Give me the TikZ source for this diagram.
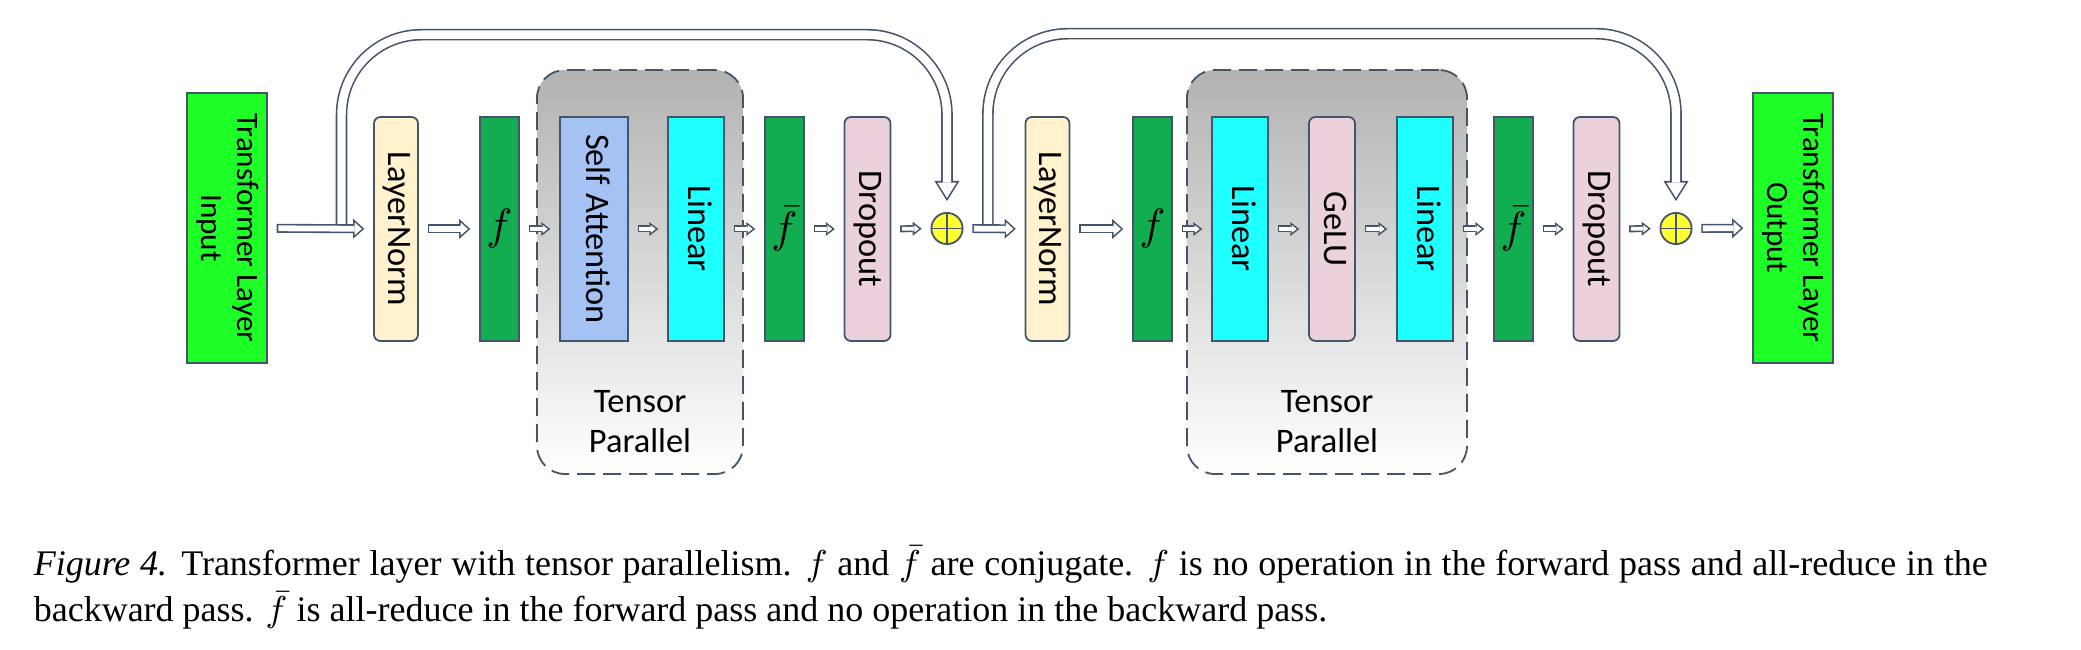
\documentclass[tikz,border=0pt]{standalone}
\usepackage{fontspec}
\setmainfont{Liberation Serif}
\newfontfamily\boxfont{Carlito}
\usepackage{graphicx}
\usetikzlibrary{arrows.meta,calc}

\definecolor{edge}{HTML}{44546A}
\definecolor{iogreen}{RGB}{30,255,40}
\definecolor{fgreen}{RGB}{18,173,80}
\definecolor{normcream}{HTML}{FFF2CC}
\definecolor{attnblue}{RGB}{164,194,244}
\definecolor{lincyan}{RGB}{30,255,255}
\definecolor{droppink}{HTML}{EAD1DC}
\definecolor{addyellow}{RGB}{255,255,50}

\newcommand{\vlabel}[1]{\rotatebox{-90}{\begin{tabular}{@{}c@{}}#1\end{tabular}}}

\begin{document}
\begin{tikzpicture}[x=0.25pt, y=-0.25pt,
    every node/.style={font=\boxfont\fontsize{8.6}{10}\selectfont},
    block/.style={draw=edge, line width=0.45pt, minimum height=56pt, inner sep=0pt},
    iobox/.style={block, fill=iogreen, minimum width=20pt, minimum height=67.5pt,
      font=\boxfont\fontsize{7.8}{9}\selectfont},
    normbox/.style={block, fill=normcream, rounded corners=1.6pt, minimum width=11pt},
    fbox/.style={block, fill=fgreen, minimum width=9.75pt, font=\fontsize{10.5}{12}\selectfont},
    attnbox/.style={block, fill=attnblue, minimum width=17pt},
    linbox/.style={block, fill=lincyan, minimum width=14pt},
    dropbox/.style={block, fill=droppink, rounded corners=1.6pt, minimum width=11.5pt},
    addnode/.style={circle, draw=edge, line width=0.45pt, fill=addyellow, minimum size=7.8pt,
      inner sep=0pt, path picture={
        \draw[edge, line width=0.45pt] (path picture bounding box.north) -- (path picture bounding box.south)
          (path picture bounding box.west) -- (path picture bounding box.east);}},
    tpbox/.style={draw=edge, line width=0.45pt, dash pattern=on 4.5pt off 2pt, rounded corners=7pt,
      top color=gray!60, bottom color=white, inner sep=0pt},
    bigarrow/.style={draw=edge, line width=2.25pt, shorten <=2.2pt, shorten >=2.2pt,
      -{Triangle[length=2.8pt, width=5pt, line width=0pt]},
      postaction={draw=white, line width=1.45pt, shorten <=2.6pt, shorten >=2.8pt,
        -{Triangle[length=1.8pt, width=3.2pt, line width=0pt]}}},
    smallarrow/.style={draw=edge, line width=1.75pt, shorten <=2.2pt, shorten >=2.2pt,
      -{Triangle[length=2.25pt, width=3.5pt, line width=0pt]},
      postaction={draw=white, line width=0.95pt, shorten <=2.6pt, shorten >=2.85pt,
        -{Triangle[length=1.2pt, width=1.9pt, line width=0pt]}}},
    skiparrow/.style={draw=edge, line width=2.9pt, rounded corners=20pt, shorten >=2.75pt,
      -{Triangle[length=5pt, width=6.25pt, line width=0pt]},
      postaction={draw=white, line width=2.1pt, shorten >=3.5pt,
        -{Triangle[length=3.85pt, width=4.8pt, line width=0pt]}}}]
    \useasboundingbox (0,0) rectangle (2081,650);

    % tensor parallel regions
    \node[tpbox, minimum width=51.5pt, minimum height=101pt] (tp1) at (640,272) {};
    \node[tpbox, minimum width=70pt, minimum height=101pt] (tp2) at (1327,272) {};
    \node[align=center] (tp1lbl) at (640,422) {Tensor\\Parallel};
    \node[align=center] (tp2lbl) at (1327,422) {Tensor\\Parallel};

    % first half: attention
    \node[iobox] (in) at (227,228) {\vlabel{Transformer Layer\\Input}};
    \node[normbox] (ln1) at (396,229) {\vlabel{LayerNorm}};
    \node[fbox] (f1) at (499.5,229) {$f$};
    \node[attnbox] (sa) at (594,229) {\vlabel{Self Attention}};
    \node[linbox] (lin1) at (696,229) {\vlabel{Linear}};
    \node[fbox] (fb1) at (784.5,229) {$\bar{f}$};
    \node[dropbox] (do1) at (867.5,229) {\vlabel{Dropout}};
    \node[addnode] (add1) at (947,228.5) {};

    % second half: MLP
    \node[normbox] (ln2) at (1047.5,229) {\vlabel{LayerNorm}};
    \node[fbox] (f2) at (1152.5,229) {$f$};
    \node[linbox] (lin2) at (1240,229) {\vlabel{Linear}};
    \node[dropbox] (gelu) at (1332,229) {\vlabel{GeLU}};
    \node[linbox] (lin3) at (1425,229) {\vlabel{Linear}};
    \node[fbox] (fb2) at (1513.5,229) {$\bar{f}$};
    \node[dropbox] (do2) at (1596.5,229) {\vlabel{Dropout}};
    \node[addnode] (add2) at (1676,228.5) {};
    \node[iobox] (out) at (1793,228) {\vlabel{Transformer Layer\\Output}};

    % residual connections
    \coordinate (s1) at ($(in.east)!0.7!(ln1.west)$);
    \coordinate (s2) at ($(add1.east)!0.4!(ln2.west)$);
    \draw[skiparrow] (s1) -- ++(0,-194) -| (add1.north);
    \draw[skiparrow] (s2) -- ++(0,-195) -| (add2.north);

    \draw[bigarrow] (in) -- (ln1);
    \draw[bigarrow] (ln1) -- (f1);
    \draw[smallarrow] (f1) -- (sa);
    \draw[smallarrow] (sa) -- (lin1);
    \draw[smallarrow] (lin1) -- (fb1);
    \draw[smallarrow] (fb1) -- (do1);
    \draw[smallarrow] (do1) -- (add1);
    \draw[bigarrow] (add1) -- (ln2);
    \draw[bigarrow] (ln2) -- (f2);
    \draw[smallarrow] (f2) -- (lin2);
    \draw[smallarrow] (lin2) -- (gelu);
    \draw[smallarrow] (gelu) -- (lin3);
    \draw[smallarrow] (lin3) -- (fb2);
    \draw[smallarrow] (fb2) -- (do2);
    \draw[smallarrow] (do2) -- (add2);
    \draw[bigarrow] (add2) -- (out);

    % caption
    \node[anchor=north west, inner sep=0pt, text width=488.5pt, align=justify,
      font=\fontsize{9}{11.5}\selectfont] (cap) at (33,545)
      {\textit{Figure 4.} Transformer layer with tensor parallelism. $f$ and $\bar{f}$ are conjugate.
       $f$ is no operation in the forward pass and all-reduce in the\linebreak
       backward pass. $\bar{f}$ is all-reduce in the forward pass and no operation in the backward pass.};
  \end{tikzpicture}
\end{document}
